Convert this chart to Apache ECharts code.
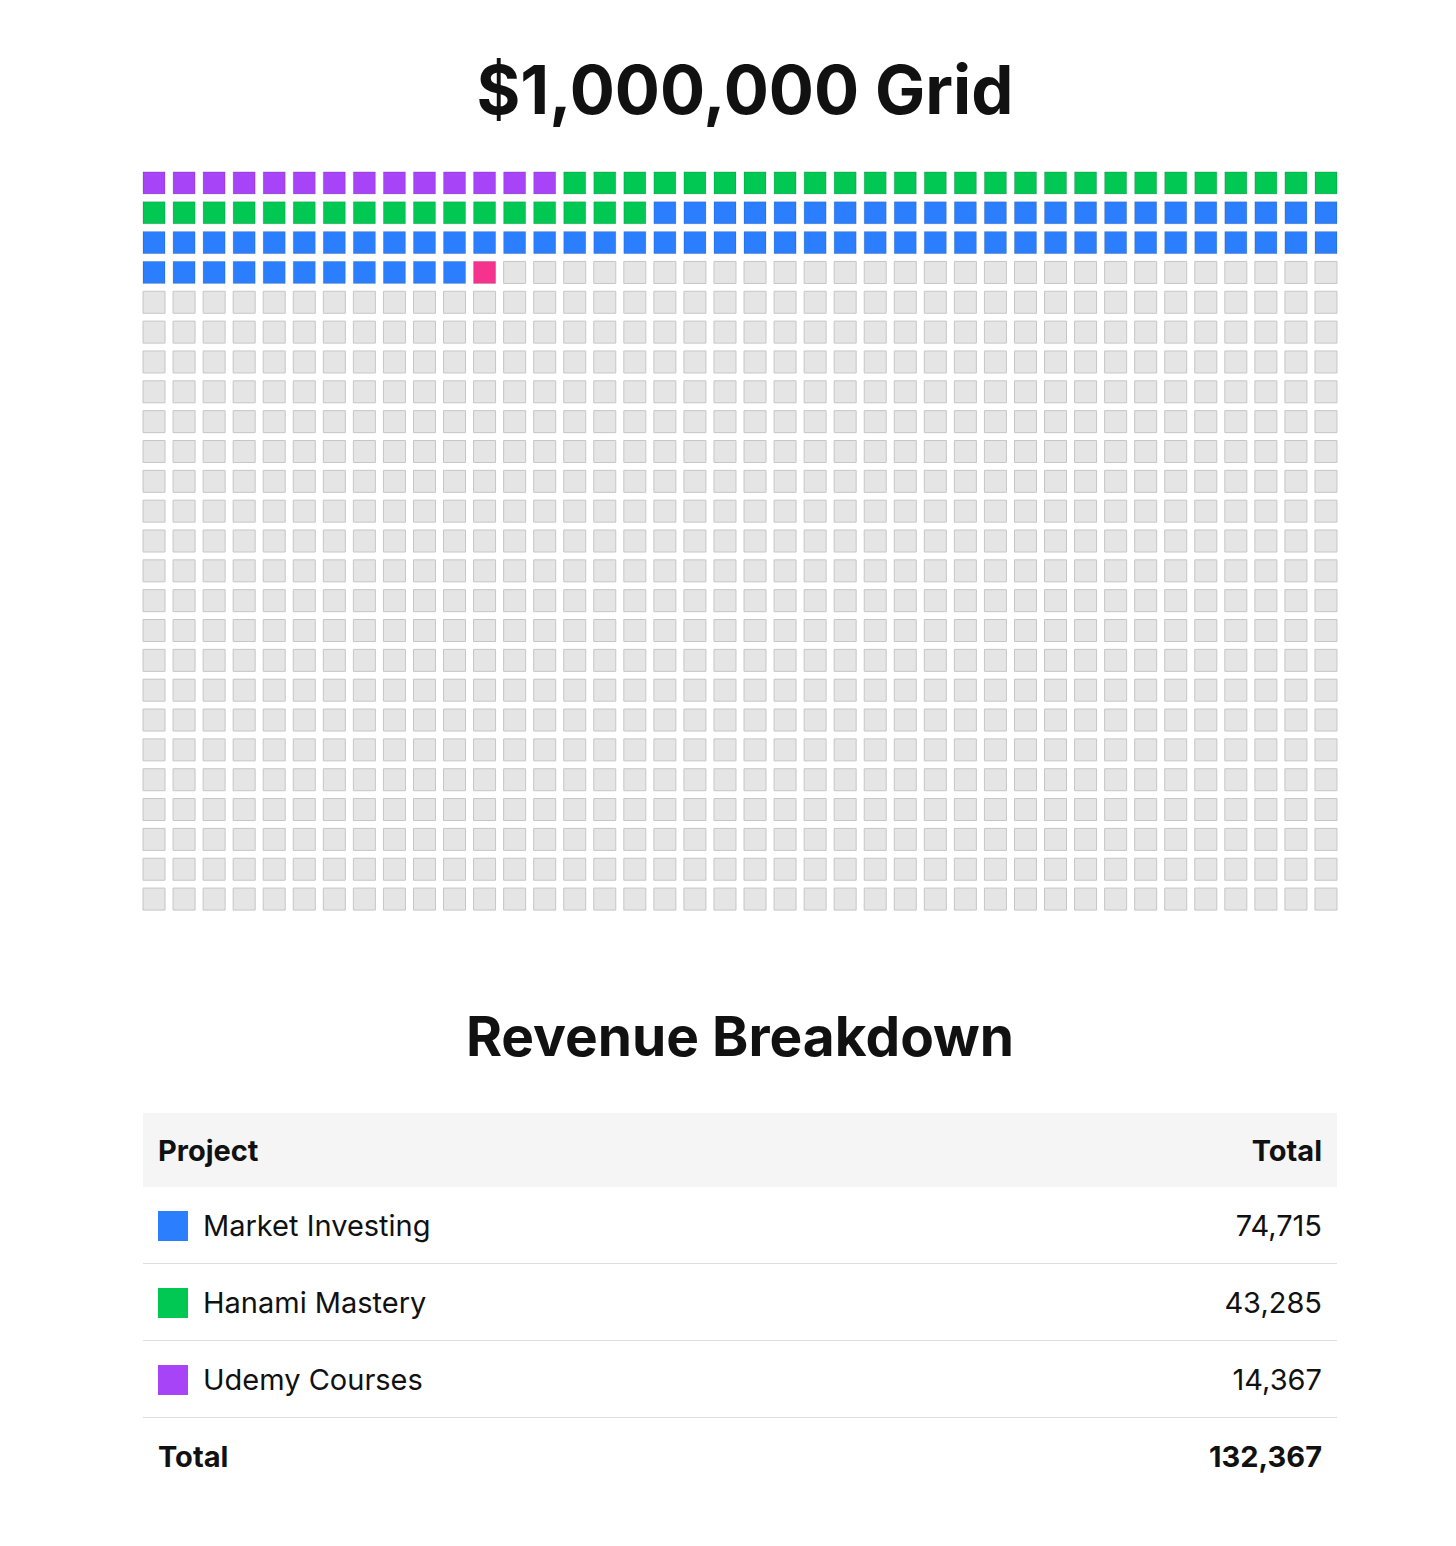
<!DOCTYPE html>
<html>
<head>
<meta charset="utf-8">
<script src="https://cdn.jsdelivr.net/npm/echarts@6/dist/echarts.min.js"></script>
<style>
  body { margin: 0; background: #fff; font-family: Inter, "Noto Sans", sans-serif; color: #111; }
  #chart { width: 1456px; height: 960px; }
  h2 { margin: 0; position: absolute; top: 1003px; left: 143px; width: 1194px; text-align: center; font-size: 55px; font-weight: 700; }
  table { position: absolute; top: 1113px; left: 143px; width: 1194px; border-collapse: collapse; font-size: 29px; }
  th, td { padding: 0 15px; text-align: left; }
  th { background: #f5f5f5; height: 74px; font-weight: 700; }
  td { height: 76px; border-bottom: 1px solid #dedede; }
  tr:last-child td { border-bottom: none; font-weight: 700; }
  .r { text-align: right; }
  .sw { display: inline-block; width: 30px; height: 30px; vertical-align: -5px; margin-right: 15px; }
</style>
</head>
<body>
<div id="chart"></div>
<h2>Revenue Breakdown</h2>
<table id="tbl"></table>
<script>
// grid cells, order of filling
var cellNames = ['Udemy Courses', 'Hanami Mastery', 'Market Investing', 'In progress'];
var cellCounts = [14, 43, 74, 1];
var cellColors = ['#a744f8', '#00c853', '#2b7fff', '#f5338e'];

// table
var projects = ['Market Investing', 'Hanami Mastery', 'Udemy Courses'];
var totals = [74715, 43285, 14367];
var projectColors = ['#2b7fff', '#00c853', '#a744f8'];

var COLS = 40, ROWS = 25;

var data = [];
var k = 0;
for (var s = 0; s < cellCounts.length; s++) {
    for (var j = 0; j < cellCounts[s]; j++) {
        data.push({ value: [k % COLS, Math.floor(k / COLS)], itemStyle: { color: cellColors[s], borderColor: 'rgba(0,0,0,0.15)' } });
        k++;
    }
}
for (; k < COLS * ROWS; k++) {
    data.push({ value: [k % COLS, Math.floor(k / COLS)], itemStyle: { color: '#e5e5e5', borderColor: '#c6c6c6' } });
}

var myChart = echarts.init(document.getElementById('chart'));
myChart.setOption({
    animation: false,
    title: {
        text: '$1,000,000 Grid', left: 740, textAlign: 'center', top: 55,
        textStyle: { fontSize: 67, fontWeight: 'bold', color: '#111', fontFamily: 'Inter' }
    },
    grid: { left: 139, top: 168, width: 1202, height: 746 },
    xAxis: { type: 'value', min: -0.5, max: COLS - 0.5, show: false },
    yAxis: { type: 'value', min: -0.5, max: ROWS - 0.5, inverse: true, show: false },
    series: [{
        type: 'scatter',
        symbol: 'rect',
        symbolSize: 22,
        itemStyle: { borderWidth: 1, opacity: 1 },
        data: data
    }]
});

var html = '<tr><th>Project</th><th class="r">Total</th></tr>';
var sum = 0;
for (var i = 0; i < projects.length; i++) {
    sum += totals[i];
    html += '<tr><td><span class="sw" style="background:' + projectColors[i] + '"></span>' + projects[i] +
        '</td><td class="r">' + totals[i].toLocaleString('en-US') + '</td></tr>';
}
html += '<tr><td>Total</td><td class="r">' + sum.toLocaleString('en-US') + '</td></tr>';
document.getElementById('tbl').innerHTML = html;
</script>
</body>
</html>
